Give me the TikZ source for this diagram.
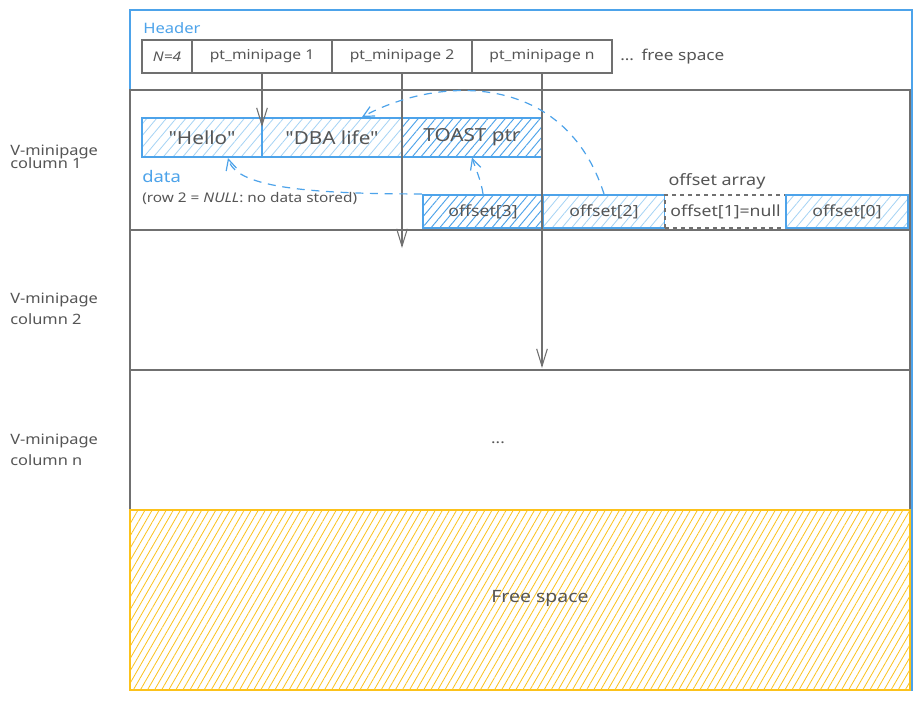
\documentclass[tikz,border=0pt]{standalone}
\usepackage{fontspec}
\setmainfont{Noto Sans}[Ligatures=TeXOff, FakeStretch=1.15]
\usetikzlibrary{arrows.meta,patterns.meta}
\definecolor{xblue}{HTML}{4DA3EA}
\definecolor{lblue}{HTML}{A5D3F5}
\definecolor{xgray}{HTML}{707070}
\definecolor{tgray}{HTML}{555555}
\definecolor{xyel}{HTML}{FCC21B}
\tikzset{
  txt/.style={text=tgray, inner sep=0},
  hcell/.style={draw=xgray, line width=0.9pt, minimum height=24.75pt, inner sep=0,
    text=tgray, font=\fontsize{10.2}{12}\selectfont},
  dcell/.style={draw=xblue, line width=1.6pt, minimum height=29.25pt, minimum width=105pt,
    inner sep=0, text=tgray, font=\fontsize{13.5}{15}\selectfont},
  ocell/.style={draw=xblue, line width=1.6pt, minimum height=24.75pt,
    inner sep=0, text=tgray, font=\fontsize{11.5}{13}\selectfont},
  lighthatch/.style={pattern={Lines[angle=50,distance=5.6pt,line width=0.6pt]}, pattern color=lblue},
  densehatch/.style={pattern={Lines[angle=50,distance=5pt,line width=0.7pt]}, pattern color=xblue},
  colbox/.style={draw=xgray, line width=1.6pt, minimum width=585pt, minimum height=105pt, inner sep=0},
  sidelabel/.style={txt, align=left, anchor=west},
  grayarrow/.style={draw=xgray, line width=0.8pt, -{Straight Barb[length=13pt,width=8pt]}},
  bluearrow/.style={draw=xblue, line width=0.9pt, dash pattern=on 6pt off 5pt,
    -{Straight Barb[length=8pt,width=8pt]}},
}
\begin{document}
\begin{tikzpicture}[x=0.75pt,y=-0.75pt]
\useasboundingbox[fill=white] (0,0) rectangle (920,700);
% page outline
\node[draw=xblue, line width=1.6pt, minimum width=586.5pt, minimum height=510pt, inner sep=0] (page) at (521,350) {};
% columns
\node[colbox] (col1) at (520,160) {};
\node[colbox] (col2) at (520,300) {};
\node[colbox] (coln) at (520,440) {};
\node[draw=xyel, line width=1.6pt, minimum width=585pt, minimum height=135pt, inner sep=0,
  pattern={Lines[angle=60,distance=4.6pt,line width=0.6pt]}, pattern color=xyel] (free) at (520,600) {};
\node[txt, font=\fontsize{12.7}{14}\selectfont] (freetxt) at (540,598) {Free space};
% header
\node[txt, text=xblue, anchor=west, font=\fontsize{10.8}{13}\selectfont] (hdr) at (143,28) {Header};
\node[hcell, minimum width=37.5pt, font=\fontsize{10}{12}\selectfont\itshape] (n4) at (167,56.5) {N=4};
\node[hcell, minimum width=105pt] (pt1) at (262,56.5) {pt\_minipage 1};
\node[hcell, minimum width=105pt] (pt2) at (402,56.5) {pt\_minipage 2};
\node[hcell, minimum width=105pt] (ptn) at (542,56.5) {pt\_minipage n};
\node[txt, anchor=west, font=\fontsize{11.2}{13}\selectfont] (fs) at (620,57) {...\enspace free space};
% side labels
\node[sidelabel, font={\fontsize{10.7}{9.5}\selectfont\lineskiplimit=-20pt}] (l1) at (10,157) {V-minipage\\column 1};
\node[sidelabel, font=\fontsize{10.7}{16}\selectfont] (l2) at (10,309) {V-minipage\\column 2};
\node[sidelabel, font=\fontsize{10.7}{16}\selectfont] (l3) at (10,450) {V-minipage\\column n};
% data cells
\node[dcell, lighthatch, minimum width=90pt] (hello) at (202,137.5) {"Hello"};
\node[dcell, lighthatch] (dba) at (332,137.5) {"DBA life"};
\node[dcell, densehatch] (toast) at (472,137.5) {TOAST ptr};
\node[txt, text=xblue, anchor=west, font=\fontsize{12}{13}\selectfont] (data) at (142,176) {data};
\node[txt, anchor=west, font=\fontsize{10}{12}\selectfont] (note) at (142,198) {(row 2 = \textit{NULL}: no data stored)};
% offsets
\node[txt, font=\fontsize{11.7}{13}\selectfont] (oa) at (717,181) {offset array};
\node[ocell, densehatch, minimum width=90pt] (off3) at (483,211.5) {offset[3]};
\node[ocell, lighthatch, minimum width=91.5pt] (off2) at (604,211.5) {offset[2]};
\node[ocell, draw=xgray, dashed, fill=white, minimum width=90.75pt] (off1) at (725.5,211.5) {offset[1]=null};
\node[ocell, lighthatch, minimum width=91.5pt] (off0) at (847,211.5) {offset[0]};
% ellipsis
\node[txt, font=\fontsize{11}{13}\selectfont] (dots) at (498,443) {...};
% gray pointers
\coordinate (t1) at (262,127);
\coordinate (t2) at (402,248);
\coordinate (t3) at (542,368);
\draw[grayarrow] (pt1.south) -- (t1);
\draw[grayarrow] (pt2.south) -- (t2);
\draw[grayarrow] (ptn.south) -- (t3);
% blue offset pointers
\coordinate (dbatip) at (362,117);
\coordinate (hellotip) at (228,158);
\draw[bluearrow] (off3.north) .. controls (481,180) and (476,170) .. (toast.south);
\draw[bluearrow] (off2.north) .. controls (565,72) and (440,75) .. (dbatip);
\draw[bluearrow] (off3.north west) .. controls (300,194) and (236,186) .. (hellotip);
\end{tikzpicture}
\end{document}
